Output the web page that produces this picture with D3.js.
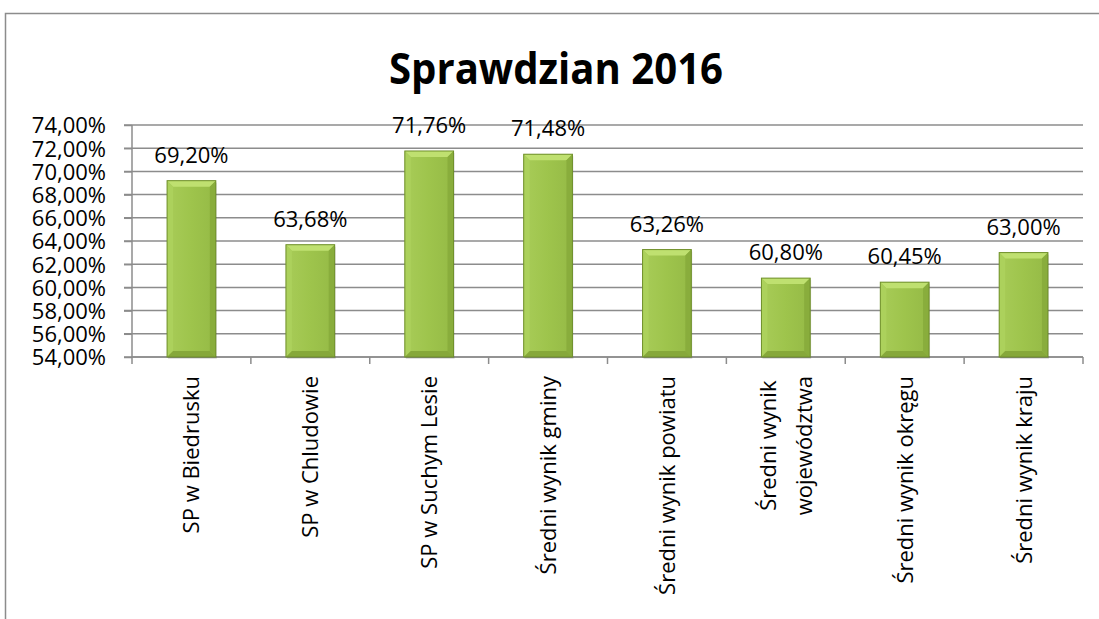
<!DOCTYPE html>
<html>
<head>
<meta charset="utf-8">
<script src="https://cdn.jsdelivr.net/npm/d3@7"></script>
<style>
  body { margin: 0; background: #fff; }
  svg { display: block; }
</style>
</head>
<body>
<div id="chart"></div>
<script>
var categories = [
  ["SP w Biedrusku"],
  ["SP w Chludowie"],
  ["SP w Suchym Lesie"],
  ["Średni wynik gminy"],
  ["Średni wynik powiatu"],
  ["Średni wynik", "województwa"],
  ["Średni wynik okręgu"],
  ["Średni wynik kraju"]
];
var values = [69.20, 63.68, 71.76, 71.48, 63.26, 60.80, 60.45, 63.00];
var yTicks = [54, 56, 58, 60, 62, 64, 66, 68, 70, 72, 74];

var width = 1099, height = 619;
var plotLeft = 132, plotRight = 1083, plotTop = 125, plotBottom = 357;

var fmt = function(v){ return v.toFixed(2).replace(".", ",") + "%"; };

var svg = d3.select("#chart").append("svg")
  .attr("width", width)
  .attr("height", height);

// gradient for the bevelled bars
var defs = svg.append("defs");
var g1 = defs.append("linearGradient").attr("id", "face")
  .attr("x1", 0).attr("x2", 1).attr("y1", 0).attr("y2", 0);
g1.append("stop").attr("offset", "0%").attr("stop-color", "#a8cc58");
g1.append("stop").attr("offset", "50%").attr("stop-color", "#9ec44c");
g1.append("stop").attr("offset", "100%").attr("stop-color", "#95ba46");

// outer frame
svg.append("path")
  .attr("d", "M5.5,619 L5.5,13.5 L1099,13.5")
  .attr("fill", "none")
  .attr("stroke", "#8c8c8c")
  .attr("stroke-width", 1.5);

svg.append("text")
  .attr("x", 556)
  .attr("y", 84)
  .attr("text-anchor", "middle")
  .attr("textLength", 334)
  .attr("lengthAdjust", "spacingAndGlyphs")
  .style("font-family", "'Open Sans', sans-serif")
  .style("font-weight", "bold")
  .style("font-size", "43px")
  .text("Sprawdzian 2016");

var x = d3.scaleBand()
  .domain(d3.range(categories.length))
  .range([plotLeft, plotRight]);

var y = d3.scaleLinear()
  .domain([54, 74])
  .range([plotBottom, plotTop]);

// grid
svg.append("g").selectAll("line")
  .data(yTicks)
  .enter().append("line")
  .attr("x1", plotLeft - 8)
  .attr("x2", plotRight)
  .attr("y1", d => y(d))
  .attr("y2", d => y(d))
  .attr("stroke", "#8c8c8c")
  .attr("stroke-width", 1.5);

// y axis
var yAxis = svg.append("g")
  .attr("transform", "translate(" + plotLeft + ",0)")
  .call(d3.axisLeft(y).tickValues(yTicks).tickSize(8).tickFormat(fmt));
yAxis.selectAll("line, path").attr("stroke", "#8c8c8c").attr("stroke-width", 1.5);
yAxis.select(".domain").attr("d", "M0," + plotTop + "V" + plotBottom);
yAxis.selectAll("text")
  .attr("x", -26)
  .attr("dy", "0.36em")
  .attr("fill", "#000")
  .style("font-family", "'Open Sans', sans-serif")
  .style("font-size", "22px");

// x axis ticks at category boundaries
svg.append("line")
  .attr("x1", plotLeft).attr("x2", plotRight)
  .attr("y1", plotBottom).attr("y2", plotBottom)
  .attr("stroke", "#8c8c8c").attr("stroke-width", 1.5);
svg.append("g").selectAll("line")
  .data(d3.range(categories.length + 1))
  .enter().append("line")
  .attr("x1", d => plotLeft + d * x.bandwidth())
  .attr("x2", d => plotLeft + d * x.bandwidth())
  .attr("y1", plotBottom)
  .attr("y2", plotBottom + 7)
  .attr("stroke", "#8c8c8c").attr("stroke-width", 1.5);

// bars
var bw = x.bandwidth() * 0.41;
var bev = 6;
var bars = svg.append("g").selectAll("g")
  .data(values)
  .enter().append("g")
  .attr("transform", (d, i) => "translate(" + (x(i) + x.bandwidth() / 2 - bw / 2) + "," + y(d) + ")");

bars.append("rect")
  .attr("x", 1).attr("y", 2)
  .attr("width", bw).attr("height", d => y(54) - y(d))
  .attr("fill", "#000").attr("opacity", 0.12);

bars.append("rect")
  .attr("width", bw)
  .attr("height", d => y(54) - y(d))
  .attr("fill", "url(#face)");

// top bevel
bars.append("path")
  .attr("d", "M0,0 L" + bw + ",0 L" + (bw - bev) + "," + bev + " L" + bev + "," + bev + "Z")
  .attr("fill", "#bfe070");
// left bevel
bars.append("path")
  .attr("d", d => { var h = y(54) - y(d); return "M0,0 L" + bev + "," + bev + " L" + bev + "," + (h - bev) + " L0," + h + "Z"; })
  .attr("fill", "#acd15c");
// right bevel
bars.append("path")
  .attr("d", d => { var h = y(54) - y(d); return "M" + bw + ",0 L" + (bw - bev) + "," + bev + " L" + (bw - bev) + "," + (h - bev) + " L" + bw + "," + h + "Z"; })
  .attr("fill", "#89ad3c");
// bottom bevel
bars.append("path")
  .attr("d", d => { var h = y(54) - y(d); return "M0," + h + " L" + bev + "," + (h - bev) + " L" + (bw - bev) + "," + (h - bev) + " L" + bw + "," + h + "Z"; })
  .attr("fill", "#86a83a");

bars.append("rect")
  .attr("width", bw)
  .attr("height", d => y(54) - y(d))
  .attr("fill", "none")
  .attr("stroke", "#6f8f2b")
  .attr("stroke-width", 1);

// value labels
svg.append("g").selectAll("text")
  .data(values)
  .enter().append("text")
  .attr("x", (d, i) => x(i) + x.bandwidth() / 2)
  .attr("y", d => y(d) - 18)
  .attr("text-anchor", "middle")
  .style("font-family", "'Open Sans', sans-serif")
  .style("font-size", "22px")
  .text(fmt);

// category labels, rotated
var labelTop = 376;
var lab = svg.append("g").selectAll("text")
  .data(categories)
  .enter().append("text")
  .style("font-family", "'Open Sans', sans-serif")
  .style("font-size", "22px");

lab.each(function(lines, i) {
  var t = d3.select(this);
  var lh = 36;
  var off = -(lines.length - 1) * lh / 2;
  lines.forEach(function(s, k) {
    t.append("tspan").attr("x", 0).attr("y", off + k * lh + 8).text(s);
  });
  var maxLen = 0;
  t.selectAll("tspan").each(function() { maxLen = Math.max(maxLen, this.getComputedTextLength()); });
  if (lines.length > 1) {
    t.attr("text-anchor", "middle")
      .attr("transform", "translate(" + (x(i) + x.bandwidth() / 2) + "," + (labelTop + maxLen / 2) + ") rotate(-90)");
  } else {
    t.attr("text-anchor", "end")
      .attr("transform", "translate(" + (x(i) + x.bandwidth() / 2) + "," + labelTop + ") rotate(-90)");
  }
});
</script>
</body>
</html>
